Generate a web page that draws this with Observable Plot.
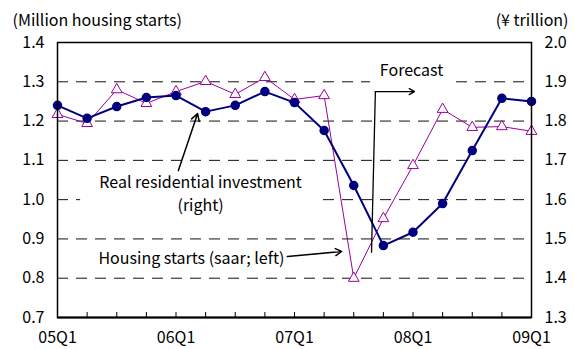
<!DOCTYPE html>
<html>
<head>
<meta charset="utf-8">
<script src="https://cdn.jsdelivr.net/npm/d3@7"></script>
<script src="https://cdn.jsdelivr.net/npm/@observablehq/plot@0.6"></script>
<style>
  body { margin: 0; background: #fff; }
  #chart svg { display: block; }
</style>
</head>
<body>
<div id="chart"></div>
<script>
// Quarters 05Q1 .. 09Q1
const quarters = ["05Q1","05Q2","05Q3","05Q4","06Q1","06Q2","06Q3","06Q4",
                  "07Q1","07Q2","07Q3","07Q4","08Q1","08Q2","08Q3","08Q4","09Q1"];
// Housing starts, saar, million units (left axis)
const housingStarts = [1.240, 1.207, 1.237, 1.260, 1.265, 1.224, 1.240, 1.275,
                       1.247, 1.176, 1.036, 0.883, 0.917, 0.990, 1.125, 1.258, 1.250];
// Real residential investment, yen trillion (right axis)
const residentialInvestment = [1.817, 1.794, 1.880, 1.845, 1.875, 1.901, 1.868, 1.911,
                               1.855, 1.865, 1.400, 1.552, 1.687, 1.830, 1.784, 1.786, 1.774];
const leftTicks = [0.7, 0.8, 0.9, 1.0, 1.1, 1.2, 1.3, 1.4];
const gridValues = [0.8, 0.9, 1.0, 1.1, 1.2, 1.3];
const xLabelQuarters = ["05Q1", "06Q1", "07Q1", "08Q1", "09Q1"];

// Right axis (1.3–2.0) shares the left scale (0.7–1.4) through a fixed offset
const offset = 0.6;

const idx = quarters.map((q, i) => i);
const starts = quarters.map((q, i) => ({i, v: housingStarts[i]}));
const invest = quarters.map((q, i) => ({i, v: residentialInvestment[i] - offset}));
const labelIdx = xLabelQuarters.map(q => quarters.indexOf(q));

const font = "'Noto Sans CJK JP', 'Noto Sans', sans-serif";
const navy = "#00007f";
const purple = "#990099";
const fs = 16;

const chart = Plot.plot({
  width: 574,
  height: 349,
  marginLeft: 57,
  marginRight: 43,
  marginTop: 42,
  marginBottom: 32,
  style: {fontFamily: font, fontSize: `${fs}px`, color: "#000", background: "#fff"},
  x: {domain: [0, quarters.length - 1]},
  y: {domain: [0.7, 1.4]},
  marks: [
    // dashed grid
    Plot.ruleY(gridValues, {stroke: "#111", strokeWidth: 1, strokeDasharray: "11,8"}),
    // white boxes behind annotations
    Plot.rect([{x1: 0.78, x2: 8.81, y1: 0.967, y2: 1.087}], {x1: "x1", x2: "x2", y1: "y1", y2: "y2", fill: "#fff"}),
    Plot.rect([{x1: 10.57, x2: 13.43, y1: 1.293, y2: 1.359}], {x1: "x1", x2: "x2", y1: "y1", y2: "y2", fill: "#fff"}),
    // series
    Plot.line(invest, {x: "i", y: "v", stroke: purple, strokeWidth: 1}),
    Plot.dot(invest, {x: "i", y: "v", symbol: "triangle", r: 4, stroke: purple, fill: "#fff", strokeWidth: 1}),
    Plot.line(starts, {x: "i", y: "v", stroke: navy, strokeWidth: 2}),
    Plot.dot(starts, {x: "i", y: "v", r: 4, fill: navy, stroke: navy}),
    // frame and axes
    Plot.frame({stroke: "#000", strokeWidth: 1.5}),
    Plot.ruleY([0.7], {stroke: "#000", strokeWidth: 2.2}),
    Plot.axisY(leftTicks, {anchor: "left", tickSize: 0, tickPadding: 13, tickFormat: d => d.toFixed(1), label: null, fontSize: fs}),
    Plot.axisY(leftTicks, {anchor: "right", tickSize: 0, tickPadding: 13, tickFormat: d => (d + offset).toFixed(1), label: null, fontSize: fs}),
    Plot.axisX(idx, {anchor: "bottom", tickSize: -5, text: null, label: null, strokeWidth: 1}),
    Plot.axisX(labelIdx, {anchor: "bottom", tickSize: 0, tickPadding: 14, tickFormat: i => quarters[i], label: null, fontSize: fs}),
    // axis unit labels
    Plot.text(["(Million housing starts)"], {frameAnchor: "top-left", textAnchor: "start", lineAnchor: "middle", dx: -45, dy: -22, fontSize: fs}),
    Plot.text(["(¥ trillion)"], {frameAnchor: "top-right", textAnchor: "end", lineAnchor: "middle", dx: 37, dy: -22, fontSize: fs}),
    // annotations
    Plot.text(["Forecast"], {x: 11.95, y: 1.329, fontSize: fs}),
    Plot.line([{x: 10.6, y: 0.866}, {x: 10.73, y: 1.275}], {x: "x", y: "y", stroke: "#000", strokeWidth: 1.3}),
    Plot.arrow([{x1: 10.73, y1: 1.275, x2: 12.05, y2: 1.275}], {x1: "x1", y1: "y1", x2: "x2", y2: "y2", stroke: "#000", strokeWidth: 1.3, headLength: 7}),
    Plot.text(["Real residential investment\n(right)"], {x: 4.83, y: 1.019, lineHeight: 1.45, fontSize: fs}),
    Plot.arrow([{x1: 4.08, y1: 1.074, x2: 4.73, y2: 1.219}], {x1: "x1", y1: "y1", x2: "x2", y2: "y2", stroke: "#000", strokeWidth: 1.5, headLength: 8}),
    Plot.text(["Housing starts (saar; left)"], {x: 4.52, y: 0.850, fontSize: fs}),
    Plot.arrow([{x1: 7.76, y1: 0.855, x2: 9.59, y2: 0.868}], {x1: "x1", y1: "y1", x2: "x2", y2: "y2", stroke: "#000", strokeWidth: 1.5, headLength: 7})
  ]
});
document.getElementById("chart").appendChild(chart);
</script>
</body>
</html>
